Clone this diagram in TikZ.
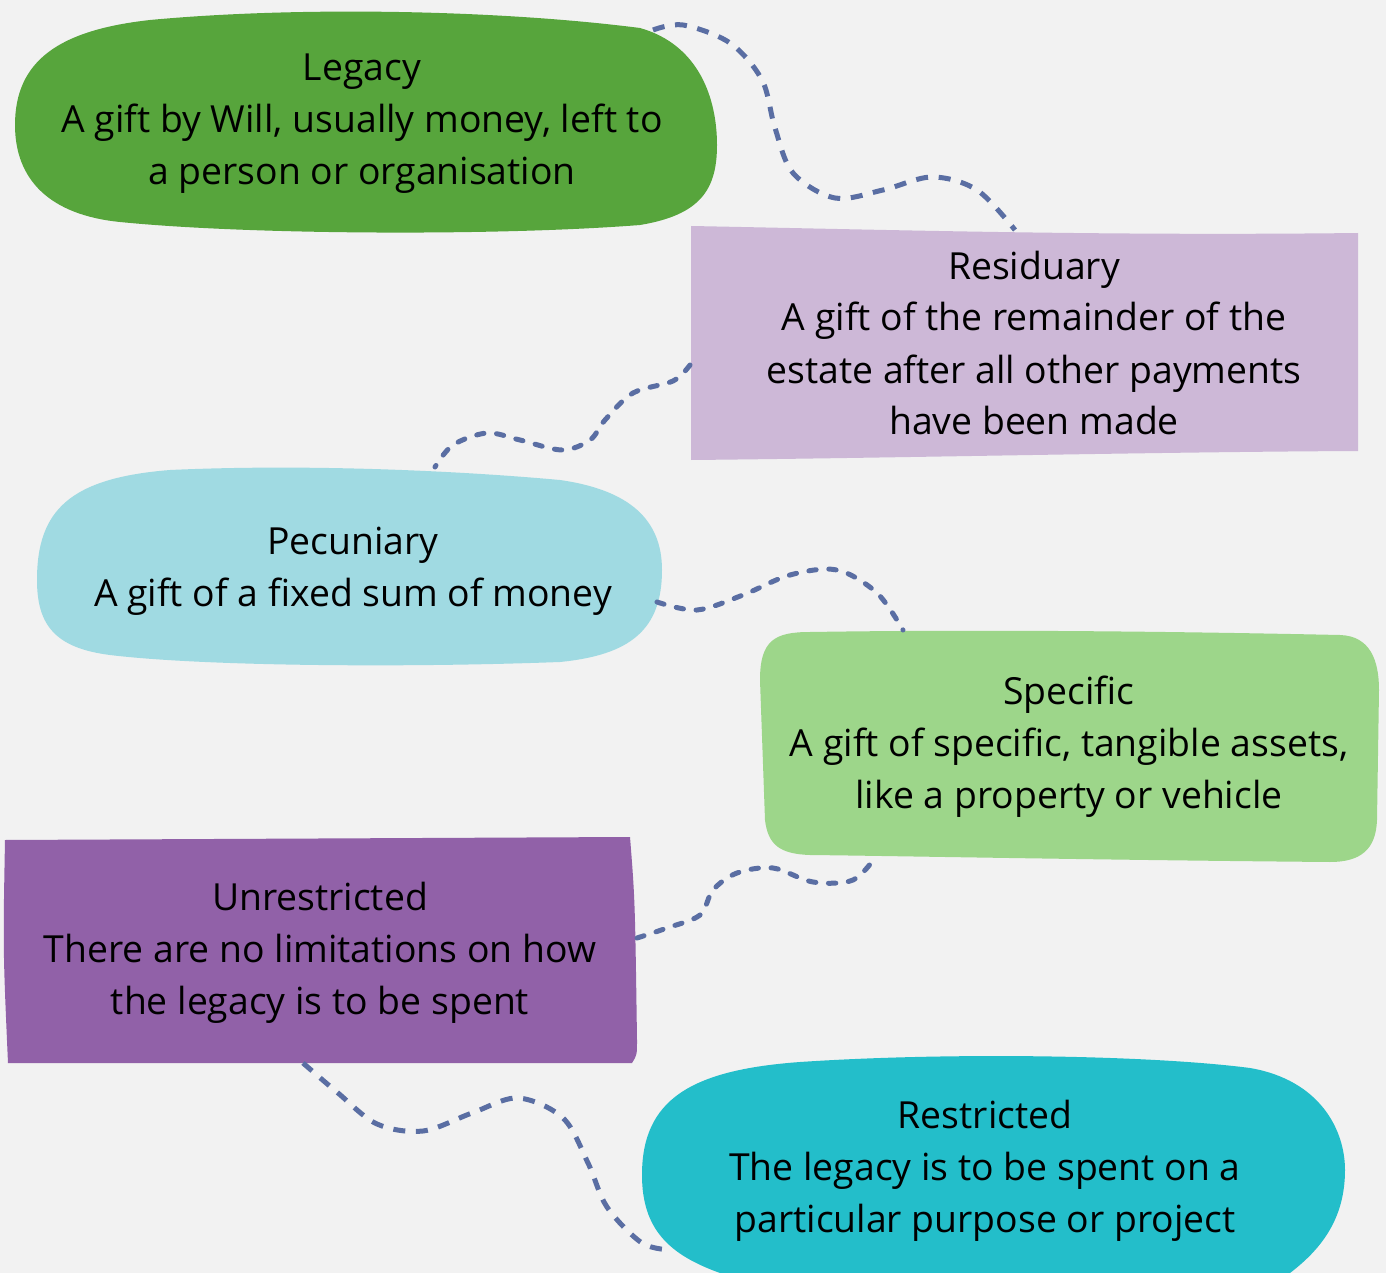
\documentclass[tikz,border=0pt]{standalone}
\usepackage{fontspec}
\setmainfont{Open Sans}
\definecolor{bg}{HTML}{F2F2F2}
\definecolor{cLegacy}{HTML}{57A53C}
\definecolor{cResid}{HTML}{CDB8D7}
\definecolor{cPecun}{HTML}{A0DAE2}
\definecolor{cSpec}{HTML}{9DD68A}
\definecolor{cUnres}{HTML}{9161A8}
\definecolor{cRestr}{HTML}{23BECA}
\definecolor{cConn}{HTML}{5A6EA3}
\begin{document}
\begin{tikzpicture}[x=0.75pt,y=-0.75pt,
  txt/.style={align=center,font=\fontsize{28pt}{39pt}\selectfont,text=black,inner sep=0pt},
  conn/.style={draw=cConn,line width=3.75pt,dash pattern=on 9pt off 8pt},
  connr/.style={draw=cConn,line width=3.75pt,line cap=round,dash pattern=on 5.5pt off 9.5pt}]
\useasboundingbox (0,0) rectangle (1386,1273);
\fill[bg] (0,0) rectangle (1386,1273);
% shapes
\fill[cLegacy] (15,125) .. controls (15,60) and (60,30) .. (150,20) .. controls (300,6) and (500,10) .. (640,28) .. controls (700,45) and (717,100) .. (717,145) .. controls (717,190) and (700,215) .. (640,225) .. controls (500,236) and (250,235) .. (120,222) .. controls (50,215) and (15,180) .. (15,125) -- cycle;
\fill[cResid] (691,226) .. controls (900,230) and (1100,236) .. (1358,233) -- (1358,451) .. controls (1150,452) and (900,458) .. (691,460) -- cycle;
\fill[cPecun] (37,580) .. controls (37,510) and (70,478) .. (170,470) .. controls (300,464) and (450,470) .. (560,480) .. controls (630,490) and (662,520) .. (662,570) .. controls (662,630) and (630,655) .. (560,662) .. controls (400,668) and (200,666) .. (110,655) .. controls (55,648) and (37,625) .. (37,580) -- cycle;
\fill[cSpec] (760,680) .. controls (760,640) and (775,632) .. (810,632) .. controls (1000,629) and (1200,632) .. (1340,635) .. controls (1370,636) and (1379,660) .. (1379,690) -- (1377,820) .. controls (1376,850) and (1360,862) .. (1330,862) .. controls (1100,860) and (900,856) .. (810,855) .. controls (780,854) and (768,845) .. (765,820) -- cycle;
\fill[cUnres] (5,840) -- (630,837) .. controls (635,900) .. (637,1040) .. controls (637,1055) .. (632,1063) -- (8,1063) .. controls (3,950) .. (5,840) -- cycle;
\fill[cRestr] (642,1175) .. controls (642,1100) and (690,1070) .. (800,1062) .. controls (950,1052) and (1150,1055) .. (1250,1068) .. controls (1320,1080) and (1345,1130) .. (1345,1170) .. controls (1345,1220) and (1320,1250) .. (1290,1273) -- (720,1273) .. controls (670,1255) and (642,1230) .. (642,1175) -- cycle;
% texts
\node[txt] (legacy) at (362,124) {Legacy\\A gift by Will, usually money, left to\\a person or organisation};
\node[txt] (resid) at (1034,343) {Residuary\\A gift of the remainder of the\\estate after all other payments\\have been made};
\node[txt] (pecun) at (353,571) {Pecuniary\\A gift of a fixed sum of money};
\node[txt] (spec) at (1069,747) {Specific\\A gift of specific, tangible assets,\\like a property or vehicle};
\node[txt] (unres) at (320,953) {Unrestricted\\There are no limitations on how\\the legacy is to be spent};
\node[txt] (restr) at (985,1171) {Restricted\\The legacy is to be spent on a\\particular purpose or project};
% connector end points
\coordinate (legA) at (653,30);
\coordinate (resA) at (1015,230);
\coordinate (resB) at (690,365);
\coordinate (pecB) at (435,467);
\coordinate (pecC) at (657,602);
\coordinate (speC) at (903,630);
\coordinate (speD) at (877,855);
\coordinate (unrD) at (637,938);
\coordinate (unrE) at (303,1063);
\coordinate (resE) at (672,1250);
% connectors
\draw[conn] plot[smooth,tension=0.55] coordinates {(legA) (683,25) (730,43) (762,80) (775,128) (793,173) (835,198) (883,190) (932,177) (977,190) (resA)};
\draw[connr] plot[smooth,tension=0.55] coordinates {(resB) (673,381) (633,393) (605,420) (590,440) (562,450) (520,440) (487,433) (453,445) (pecB)};
\draw[connr] plot[smooth,tension=0.55] coordinates {(pecC) (697,610) (743,595) (790,575) (837,570) (877,593) (speC)};
\draw[connr] plot[smooth,tension=0.55] coordinates {(unrD) (667,928) (700,915) (713,890) (737,873) (773,868) (813,882) (853,880) (speD)};
\draw[conn] plot[smooth,tension=0.55] coordinates {(unrE) (338,1093) (377,1124) (423,1131) (472,1113) (518,1098) (563,1118) (588,1163) (607,1207) (642,1243) (resE)};
\end{tikzpicture}
\end{document}
